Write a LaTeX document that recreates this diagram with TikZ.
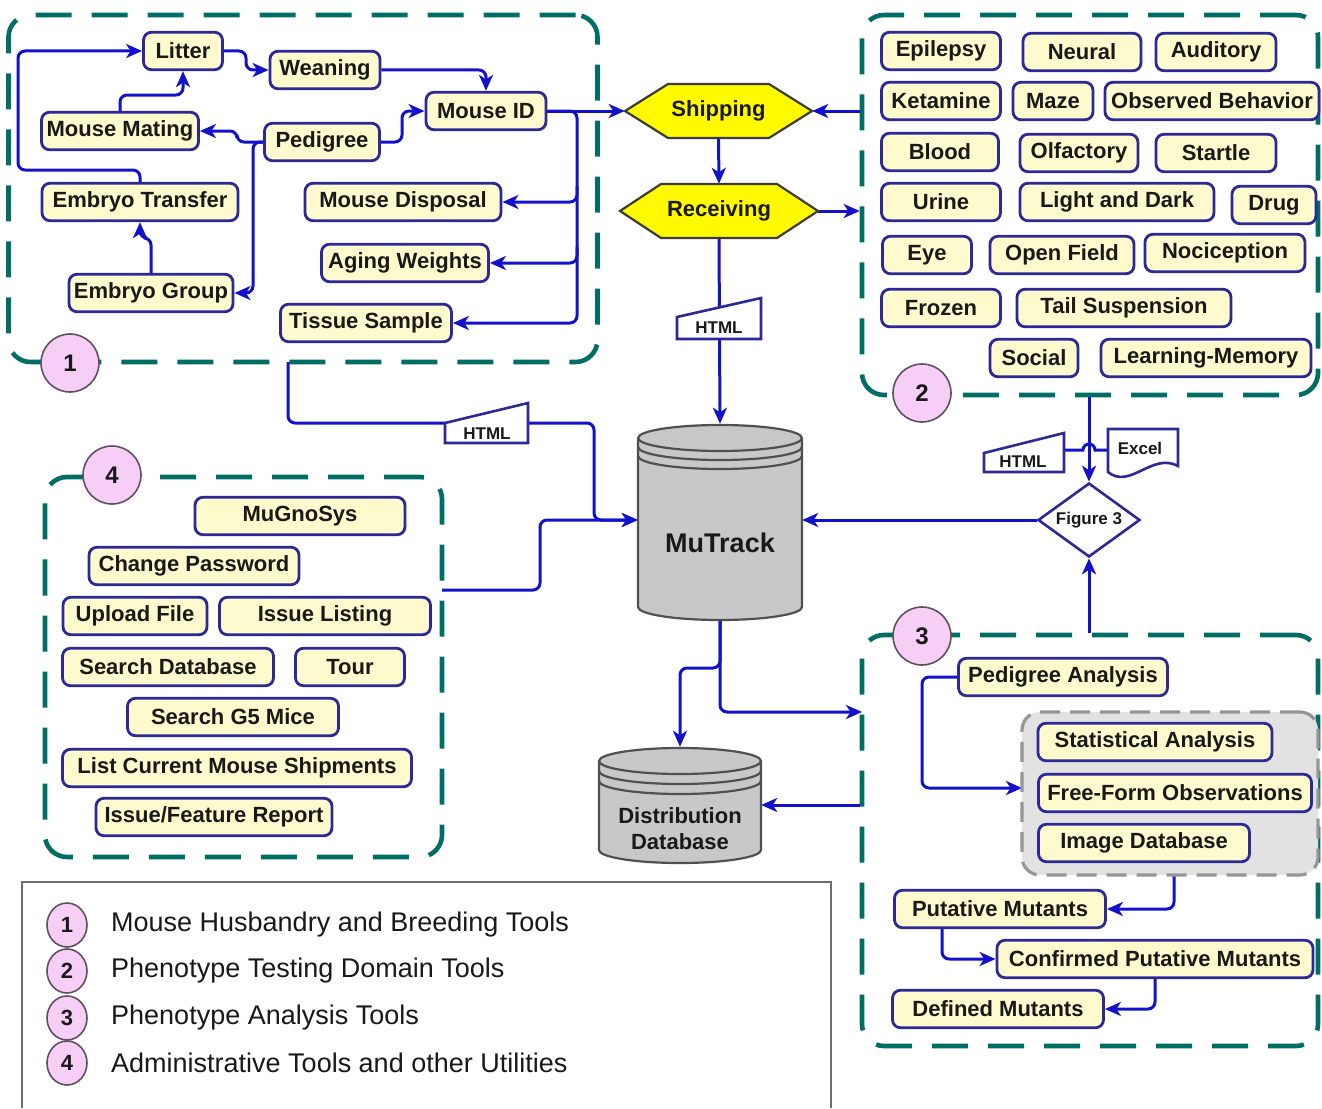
\documentclass[tikz,border=0pt]{standalone}
\usepackage{fontspec}
\setmainfont{Liberation Sans}
\usetikzlibrary{arrows.meta,shapes.geometric}
\pgfdeclarelayer{bg}
\pgfsetlayers{bg,main}

\definecolor{nodefill}{RGB}{253,251,206}
\definecolor{nodeborder}{RGB}{44,40,150}
\definecolor{linkblue}{RGB}{18,18,205}
\definecolor{regteal}{RGB}{0,110,100}
\definecolor{pinkfill}{RGB}{246,206,246}
\definecolor{circborder}{RGB}{95,80,95}
\definecolor{cylgray}{RGB}{200,200,200}
\definecolor{cylborder}{RGB}{80,80,80}
\definecolor{hexyellow}{RGB}{255,250,0}
\definecolor{hexborder}{RGB}{60,60,50}
\definecolor{grayfill}{RGB}{226,226,226}
\definecolor{graydash}{RGB}{150,150,150}
\definecolor{txtdark}{RGB}{25,25,25}
\definecolor{legendgray}{RGB}{110,110,110}

\newcommand{\bxfont}{\fontsize{22}{26}\selectfont\bfseries}

\begin{document}
\begin{tikzpicture}[x=1pt,y=-1pt,
  box/.style={draw=nodeborder, fill=nodefill, line width=2.8pt, rounded corners=8pt, minimum height=37.5pt, inner xsep=4pt, inner ysep=0pt, font=\bxfont, text=txtdark},
  region/.style={draw=regteal, line width=4.6pt, dash pattern=on 36pt off 20pt, rounded corners=22pt, inner sep=0pt},
  numc/.style={circle, draw=circborder, fill=pinkfill, line width=1.6pt, minimum size=58pt, inner sep=0pt, font=\fontsize{24}{24}\selectfont\bfseries, text=txtdark},
  legc/.style={ellipse, draw=circborder, fill=pinkfill, line width=1.6pt, minimum width=40pt, minimum height=44pt, inner sep=0pt, font=\fontsize{22}{22}\selectfont\bfseries, text=txtdark},
  legt/.style={anchor=west, inner sep=0pt, font=\fontsize{27}{30}\selectfont, text=txtdark},
  conn/.style={draw=linkblue, line width=3pt, rounded corners=7pt, -{Stealth[length=16pt,width=14pt,inset=4.5pt]}},
  connplain/.style={draw=linkblue, line width=3pt},
  anchorbox/.style={inner sep=0pt, draw=none},
  htmlshape/.style={draw=nodeborder, fill=white, line width=2.6pt},
  smalllbl/.style={font=\fontsize{17}{17}\selectfont\bfseries, text=txtdark, inner sep=0pt},
  cyl/.style={draw=cylborder, fill=cylgray, line width=2.2pt},
  cylline/.style={draw=cylborder, line width=2.2pt},
  hexa/.style={draw=hexborder, fill=hexyellow, line width=2.2pt},
]
\useasboundingbox (0,0) rectangle (1322,1108);

% ---------------- Region 1 nodes
\node[box, minimum width=79pt] (lit) at (183,51) {Litter};
\node[box, minimum width=110pt] (wean) at (325,70) {Weaning};
\node[box, minimum width=120pt] (mid) at (486,111) {Mouse ID};
\node[box, minimum width=157pt] (mm) at (120,131) {Mouse Mating};
\node[box, minimum width=115pt] (ped) at (322,142) {Pedigree};
\node[box, minimum width=196pt] (et) at (140,202) {Embryo Transfer};
\node[box, minimum width=196pt] (md) at (403,202) {Mouse Disposal};
\node[box, minimum width=167pt] (aw) at (405,263) {Aging Weights};
\node[box, minimum width=164pt] (eg) at (151,293) {Embryo Group};
\node[box, minimum width=171pt] (ts) at (366,323) {Tissue Sample};

% ---------------- Region 2 nodes
\node[box, minimum width=119pt] (epi) at (941,51) {Epilepsy};
\node[box, minimum width=118pt] (neu) at (1082,52) {Neural};
\node[box, minimum width=120pt] (aud) at (1216,52) {Auditory};
\node[box, minimum width=119pt] (ket) at (941,101) {Ketamine};
\node[box, minimum width=80pt] (maze) at (1053,101) {Maze};
\node[box, minimum width=214pt] (obs) at (1212,101) {Observed Behavior};
\node[box, minimum width=117pt] (blood) at (940,152) {Blood};
\node[box, minimum width=118pt] (olf) at (1079,153) {Olfactory};
\node[box, minimum width=120pt] (star) at (1216,153) {Startle};
\node[box, minimum width=119pt] (uri) at (941,202) {Urine};
\node[box, minimum width=194pt] (lad) at (1117,202) {Light and Dark};
\node[box, minimum width=84pt] (drug) at (1274,205) {Drug};
\node[box, minimum width=89pt] (eye) at (927,255) {Eye};
\node[box, minimum width=144pt] (of) at (1062,255) {Open Field};
\node[box, minimum width=160pt] (noc) at (1225,253) {Nociception};
\node[box, minimum width=119pt] (froz) at (941,308) {Frozen};
\node[box, minimum width=214pt] (tail) at (1124,308) {Tail Suspension};
\node[box, minimum width=88pt] (soc) at (1034,358) {Social};
\node[box, minimum width=210pt] (lm) at (1206,358) {Learning-Memory};

% ---------------- Region 3 nodes
\node[draw=graydash, fill=grayfill, line width=3.2pt, dash pattern=on 20pt off 10pt, rounded corners=18pt, minimum width=296pt, minimum height=163pt, inner sep=0pt] (gray) at (1170,793.5) {};
\node[box, minimum width=209pt] (pa) at (1063,677) {Pedigree Analysis};
\node[box, minimum width=234pt] (sa) at (1155,742) {Statistical Analysis};
\node[box, minimum width=273pt] (ffo) at (1175,793) {Free-Form Observations};
\node[box, minimum width=211pt] (idb) at (1144,843) {Image Database};
\node[box, minimum width=211pt] (pm) at (1000,909) {Putative Mutants};
\node[box, minimum width=316pt] (cpm) at (1155,959) {Confirmed Putative Mutants};
\node[box, minimum width=211pt] (dm) at (998,1009) {Defined Mutants};

% ---------------- Region 4 nodes
\node[box, minimum width=210pt] (mgs) at (300,516) {MuGnoSys};
\node[box, minimum width=210pt] (cpw) at (194,566) {Change Password};
\node[box, minimum width=144pt] (uf) at (135,616) {Upload File};
\node[box, minimum width=211pt] (il) at (325,616) {Issue Listing};
\node[box, minimum width=211pt] (sd) at (168,667) {Search Database};
\node[box, minimum width=109pt] (tour) at (350,667) {Tour};
\node[box, minimum width=211pt] (sg) at (233,717) {Search G5 Mice};
\node[box, minimum width=349pt] (lcms) at (237,768) {List Current Mouse Shipments};
\node[box, minimum width=236pt] (ifr) at (214,817) {Issue/Feature Report};

% ---------------- Shipping / Receiving hexagons
\filldraw[hexa] (625,111) -- (668,84) -- (769,84) -- (812,111) -- (769,138) -- (668,138) -- cycle;
\node[anchorbox, minimum width=187pt, minimum height=54pt, font=\bxfont, text=txtdark] (ship) at (718.5,111) {Shipping};
\filldraw[hexa] (620,211) -- (661,184) -- (777,184) -- (818,211) -- (777,238) -- (661,238) -- cycle;
\node[anchorbox, minimum width=198pt, minimum height=54pt, font=\bxfont, text=txtdark] (recv) at (719,211) {Receiving};

% ---------------- MuTrack cylinder
\filldraw[cyl] (638,438) -- (638,607) arc[start angle=180,end angle=360,x radius=82pt,y radius=13pt] -- (802,438) arc[start angle=0,end angle=180,x radius=82pt,y radius=13pt] -- cycle;
\foreach \d in {0,9,18} {\draw[cylline] (638,438+\d) arc[start angle=180,end angle=360,x radius=82pt,y radius=13pt];}
\node[anchorbox, minimum width=164pt, minimum height=196pt] (mutrack) at (720,522) {};
\node[font=\fontsize{27}{27}\selectfont\bfseries, text=txtdark, inner sep=0pt] (mutracklbl) at (720,543) {MuTrack};

% ---------------- Distribution Database cylinder
\filldraw[cyl] (599,761) -- (599,850) arc[start angle=180,end angle=360,x radius=81pt,y radius=13pt] -- (761,761) arc[start angle=0,end angle=180,x radius=81pt,y radius=13pt] -- cycle;
\foreach \d in {0,10,20} {\draw[cylline] (599,761+\d) arc[start angle=180,end angle=360,x radius=81pt,y radius=13pt];}
\node[anchorbox, minimum width=162pt, minimum height=116pt] (dist) at (680,805) {};
\node[align=center, font=\bxfont, text=txtdark, inner sep=0pt] (distlbl) at (680,829) {Distribution\\Database};

% ---------------- HTML / Excel / Figure 3
\filldraw[htmlshape] (445,423) -- (528,403) -- (528,443) -- (445,443) -- cycle;
\node[anchorbox, minimum width=83pt, minimum height=40pt] (html1) at (486.5,423) {};
\node[smalllbl] (html1t) at (487,434) {HTML};

\filldraw[htmlshape] (677,317) -- (761,298) -- (761,339) -- (677,339) -- cycle;
\node[smalllbl] (html2t) at (719,328) {HTML};

\filldraw[htmlshape] (984,453) -- (1064,433) -- (1064,472) -- (984,472) -- cycle;
\node[anchorbox, minimum width=80pt, minimum height=30pt] (html3) at (1024,450) {};
\node[smalllbl] (html3t) at (1023,462) {HTML};

\filldraw[htmlshape] (1108,429) -- (1178,429) -- (1178,466) .. controls (1152,452) and (1130,490) .. (1108,472) -- cycle;
\node[anchorbox, minimum width=70pt, minimum height=20pt] (excel) at (1143,450) {};
\node[smalllbl] (excelt) at (1140,448) {Excel};

\node[diamond, draw=nodeborder, fill=white, line width=2.6pt, aspect=1.38, minimum width=102pt, minimum height=74pt, inner sep=0pt, font=\fontsize{17}{17}\selectfont\bfseries, text=txtdark] (fig3) at (1089,520) {Figure 3};

% ---------------- numbered circles
\node[numc] (c1) at (70,363) {1};
\node[numc] (c2) at (922,393) {2};
\node[numc] (c3) at (922,636) {3};
\node[numc] (c4) at (112,475) {4};

% ---------------- legend
\draw[draw=legendgray, line width=1.6pt] (22,1108) -- (22,882) -- (831,882) -- (831,1108);
\node[legc] (l1) at (67,925) {1};
\node[legt] (l1t) at (111,925) {Mouse Husbandry and Breeding Tools};
\node[legc] (l2) at (67,971) {2};
\node[legt] (l2t) at (111,971) {Phenotype Testing Domain Tools};
\node[legc] (l3) at (67,1018) {3};
\node[legt] (l3t) at (111,1018) {Phenotype Analysis Tools};
\node[legc] (l4) at (67,1063) {4};
\node[legt] (l4t) at (111,1063) {Administrative Tools and other Utilities};

% ---------------- background layer: regions and connectors
\begin{pgfonlayer}{bg}
\fill[white] (0,0) rectangle (1322,1108);
\node[region, minimum width=589pt, minimum height=347pt] (reg1) at (303,188.5) {};
\node[region, minimum width=456pt, minimum height=380pt] (reg2) at (1090,205) {};
\node[region, minimum width=456pt, minimum height=411pt] (reg3) at (1090,840.5) {};
\node[region, minimum width=397pt, minimum height=380pt] (reg4) at (243.5,667) {};

\coordinate (b1) at (577,186);
\coordinate (b2) at (577,247);
\coordinate (r1out) at (288,362);
\coordinate (r4out) at (442,590);
\coordinate (r3in) at (862,712);
\coordinate (grayin) at (1022,788);
\coordinate (grayout) at (1174,875);
\coordinate (pmout) at (942,929);
\coordinate (mtw) at (fig3.west -| mutrack.west);

% region 1
\draw[conn] (et.north) -- (140,170) -- (18,170) -- (18,51) -- (lit.west);
\draw[conn] (mm.north) -- (120,95) -- (183,95) -- (lit.south);
\draw[conn] (lit.east) -- (246,51) -- (246,70) -- (wean.west);
\draw[conn] (wean.east) -- (486,70) -- (mid.north);
\draw[conn] (ped.east) -- (402,142) -- (402,111) -- (mid.west);
\draw[conn] (ped.west) -- (237,142) -- (237,131) -- (mm.east);
\draw[conn] (ped.west) -- (253,142) -- (253,293) -- (eg.east);
\draw[conn] (eg.north) -- (151,238) -- (140,238) -- (et.south);
\draw[conn] (mid.east) -- (ship.west);
\draw[conn] (mid.east) -- (577,111) -- (577,323) -- (ts.east);
\draw[conn] (b1) -- (577,202) -- (md.east);
\draw[conn] (b2) -- (577,263) -- (aw.east);

% to MuTrack
\draw[connplain, rounded corners=7pt] (r1out) -- (288,423) -- (html1.west);
\draw[conn] (html1.east) -- (594,423) -- (594,520) -- (mtw);
\draw[conn] (r4out) -- (540,590) -- (540,520) -- (mtw);
\draw[conn] (ship.south) -- (recv.north);
\draw[conn] (recv.south) -- (mutrack.north);
\draw[conn] (reg2.west |- ship.east) -- (ship.east);
\draw[conn] (recv.east) -- (reg2.west |- recv.east);
\draw[conn] (reg2.south -| fig3.north) -- (fig3.north);
\draw[connplain] (html3.east) -- (1083,450) arc[start angle=180,end angle=0,radius=6pt] -- (excel.west);
\draw[conn] (fig3.west) -- (fig3.west -| mutrack.east);
\draw[conn] (reg3.north -| fig3.south) -- (fig3.south);
\draw[conn] (mutrack.south) -- (720,668) -- (680,668) -- (dist.north);
\draw[conn] (mutrack.south) -- (720,712) -- (r3in);
\draw[conn] (reg3.west |- dist.east) -- (dist.east);

% region 3
\draw[conn] (pa.west) -- (922,677) -- (922,788) -- (grayin);
\draw[conn] (grayout) -- (1174,909) -- (pm.east);
\draw[conn] (pmout) -- (942,959) -- (cpm.west);
\draw[conn] (cpm.south) -- (1155,1009) -- (dm.east);
\end{pgfonlayer}
\end{tikzpicture}
\end{document}
